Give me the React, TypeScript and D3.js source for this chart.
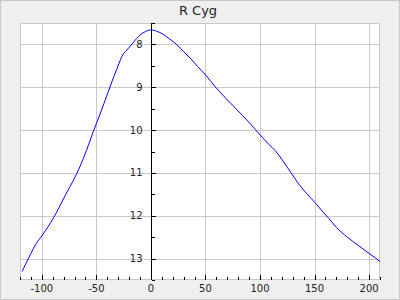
import React from "react";
import * as d3 from "d3";

const phases = [-118, -110, -105, -100, -90, -84, -78, -71, -65, -59, -53, -47, -39, -34, -31, -28, -25, -22, -18, -13, -10, -5, 0, 5, 11, 17, 24, 30, 36, 43, 50, 60, 68, 76, 84, 91, 100, 108, 114, 121, 128, 135, 140, 146, 151, 157, 163, 170, 180, 190, 200, 205, 210];
const mags = [13.30, 12.88, 12.64, 12.47, 12.08, 11.80, 11.50, 11.17, 10.85, 10.47, 10.05, 9.65, 9.10, 8.75, 8.56, 8.36, 8.21, 8.13, 8.01, 7.86, 7.78, 7.70, 7.66, 7.69, 7.76, 7.87, 8.01, 8.17, 8.32, 8.52, 8.71, 9.02, 9.24, 9.45, 9.66, 9.85, 10.11, 10.33, 10.48, 10.72, 10.98, 11.24, 11.40, 11.57, 11.71, 11.89, 12.06, 12.27, 12.50, 12.69, 12.88, 12.97, 13.07];
const xTicks = [-100, -50, 0, 50, 100, 150, 200];
const yTicks = [8, 9, 10, 11, 12, 13];
const title = "R Cyg";

const W = 400, H = 300;
const L = 20, R = 380, T = 23, B = 280;

export default function App() {
  const x = d3.scaleLinear().domain([-120, 210]).range([L, R]);
  const y = d3.scaleLinear().domain([7.5, 13.5]).range([T, B]);
  const data = phases.map((p, i) => [p, mags[i]] as [number, number]);
  const line = d3.line<[number, number]>().x(d => x(d[0])).y(d => y(d[1])).curve(d3.curveMonotoneX);
  const xMinor = d3.range(-120, 211, 10).filter(v => !xTicks.includes(v));
  const yMinor = d3.range(7.5, 13.51, 0.5).filter(v => !yTicks.includes(v));
  const x0 = Math.round(x(0)) + 0.5;
  const font = "DejaVu Sans, sans-serif";
  return (
    <svg width={W} height={H} style={{ position: "absolute", left: 0, top: 0, display: "block" }}>
      <rect x={0.5} y={0.5} width={W - 1} height={H - 1} fill="#efefef" stroke="#c8c8c8" />
      <rect x={L} y={T} width={R - L} height={B - T} fill="#ffffff" />
      <g stroke="#c8c8c8" strokeWidth={1} shapeRendering="crispEdges">
        {xTicks.filter(v => v !== 0).map(v => (
          <line key={"gx" + v} x1={Math.round(x(v)) + 0.5} x2={Math.round(x(v)) + 0.5} y1={T} y2={B} />
        ))}
        {yTicks.map(v => (
          <line key={"gy" + v} x1={L} x2={R} y1={Math.round(y(v)) + 0.5} y2={Math.round(y(v)) + 0.5} />
        ))}
        <rect x={L + 0.5} y={T + 0.5} width={R - L - 1} height={B - T - 1} fill="none" />
      </g>
      <path d={line(data) || ""} fill="none" stroke="#0000ff" strokeWidth={1} />
      <g stroke="#000" strokeWidth={1} shapeRendering="crispEdges">
        <line x1={x0} x2={x0} y1={T} y2={B} />
        {xTicks.map(v => (
          <line key={"tx" + v} x1={Math.round(x(v)) + 0.5} x2={Math.round(x(v)) + 0.5} y1={B - 5} y2={B} />
        ))}
        {xMinor.map(v => (
          <line key={"mx" + v} x1={Math.round(x(v)) + 0.5} x2={Math.round(x(v)) + 0.5} y1={B - 3} y2={B} />
        ))}
        {yTicks.map(v => (
          <line key={"ty" + v} x1={x0} x2={x0 + 4} y1={Math.round(y(v)) + 0.5} y2={Math.round(y(v)) + 0.5} />
        ))}
        {yMinor.map(v => (
          <line key={"my" + v} x1={x0} x2={x0 + 3} y1={Math.round(y(v)) + 0.5} y2={Math.round(y(v)) + 0.5} />
        ))}
      </g>
      <g fontFamily={font} fontSize={10} fill="#222">
        {xTicks.map(v => (
          <text key={"lx" + v} x={x(v)} y={292} textAnchor="middle">{v < 0 ? "-" + Math.abs(v) : String(v)}</text>
        ))}
        {yTicks.map(v => (
          <text key={"ly" + v} x={x0 - 9} y={y(v)} textAnchor="end" dominantBaseline="central">{v}</text>
        ))}
      </g>
      <text x={198} y={15} textAnchor="middle" fontFamily={font} fontSize={13} fill="#222">{title}</text>
    </svg>
  );
}
